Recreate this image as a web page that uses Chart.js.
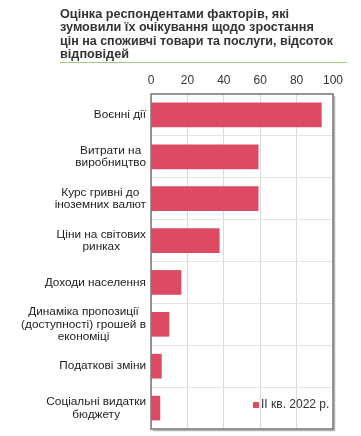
<!DOCTYPE html>
<html>
<head>
<meta charset="utf-8">
<script src="https://cdn.jsdelivr.net/npm/chart.js@4.4.1/dist/chart.umd.min.js"></script>
<style>
  html, body { margin: 0; padding: 0; background: #fff; }
  #wrap { width: 361px; height: 436px; }
</style>
</head>
<body>
<div id="wrap"><canvas id="factorsChart"></canvas></div>
<script>
// Дані (оцінені з картинки)
const categories = [
  ['Воєнні дії'],
  ['Витрати на', 'виробництво'],
  ['Курс гривні до', 'іноземних валют'],
  ['Ціни на світових', 'ринках'],
  ['Доходи населення'],
  ['Динаміка пропозиції', '(доступності) грошей в', 'економіці'],
  ['Податкові зміни'],
  ['Соціальні видатки', 'бюджету']
];
const values = [93.6, 58.9, 58.9, 37.5, 16.5, 9.9, 5.7, 4.9];
const seriesLabel = 'II кв. 2022 р.';
const titleLines = [
  'Оцінка респондентами факторів, які',
  'зумовили їх очікування щодо зростання',
  'цін на споживчі товари та послуги, відсоток',
  'відповідей'
];
const xTicks = [0, 20, 40, 60, 80, 100];

const FONT = '"Liberation Sans", Arial, sans-serif';
const COLOR_BAR = '#dc4a63';
const COLOR_TEXT = '#222';

Chart.defaults.font.family = FONT;
Chart.defaults.color = COLOR_TEXT;

// підписи категорій: кожен рядок по центру, блок притиснутий праворуч
const categoryLabels = {
  id: 'categoryLabels',
  afterDraw(chart) {
    const ctx = chart.ctx;
    const y = chart.scales.y;
    const right = chart.chartArea.left - 5;
    const lh = 12.4;
    ctx.save();
    ctx.font = '11.8px ' + FONT;
    ctx.fillStyle = COLOR_TEXT;
    ctx.textAlign = 'center';
    ctx.textBaseline = 'middle';
    categories.forEach((lines, i) => {
      const w = Math.max(...lines.map(l => ctx.measureText(l).width));
      const cx = right - w / 2;
      const cy = y.getPixelForTick(i);
      const top = cy - (lines.length - 1) * lh / 2;
      lines.forEach((l, k) => ctx.fillText(l, cx, top + k * lh));
    });
    ctx.restore();
  }
};

// рамка, зелена лінія під заголовком, легенда в області графіка
const decorations = {
  id: 'decorations',
  afterDatasetsDraw(chart) {
    const ctx = chart.ctx;
    const a = chart.chartArea;
    ctx.save();
    // тінь
    ctx.strokeStyle = '#b5b5b5';
    ctx.lineWidth = 1.5;
    ctx.beginPath();
    ctx.moveTo(a.right + 1.5, a.top + 2);
    ctx.lineTo(a.right + 1.5, a.bottom + 1.5);
    ctx.lineTo(a.left + 2, a.bottom + 1.5);
    ctx.stroke();
    ctx.strokeStyle = '#777';
    ctx.lineWidth = 1.5;
    ctx.strokeRect(a.left, a.top, a.right - a.left, a.bottom - a.top);
    // зелена лінія
    ctx.strokeStyle = '#9ccc7c';
    ctx.lineWidth = 1;
    ctx.beginPath();
    ctx.moveTo(60, 62.5);
    ctx.lineTo(347, 62.5);
    ctx.stroke();
    // легенда
    ctx.font = '12px ' + FONT;
    ctx.textBaseline = 'middle';
    ctx.textAlign = 'left';
    const tx = a.right - 72;
    const ty = a.bottom - 24;
    ctx.fillStyle = COLOR_BAR;
    ctx.fillRect(tx - 8, ty - 3, 6, 6);
    ctx.fillStyle = '#333';
    ctx.fillText(seriesLabel, tx, ty);
    ctx.restore();
  }
};

new Chart(document.getElementById('factorsChart'), {
  type: 'bar',
  data: {
    labels: categories,
    datasets: [{
      label: seriesLabel,
      data: values,
      backgroundColor: COLOR_BAR,
      barThickness: 24
    }]
  },
  options: {
    indexAxis: 'y',
    responsive: true,
    maintainAspectRatio: false,
    animation: false,
    layout: { padding: { left: 60, right: 28, bottom: 7, top: 0 } },
    plugins: {
      legend: { display: false },
      tooltip: { enabled: false },
      title: {
        display: true,
        text: titleLines,
        align: 'start',
        color: '#333',
        font: { size: 12.7, weight: 'bold', lineHeight: 1.065 },
        padding: { top: 7.5, bottom: 6 }
      }
    },
    scales: {
      x: {
        position: 'top',
        min: 0,
        max: 100,
        afterBuildTicks: s => { s.ticks = xTicks.map(v => ({ value: v })); },
        grid: { color: '#dadada', drawTicks: false },
        border: { display: false },
        ticks: { color: '#333', font: { size: 12 }, padding: 6 }
      },
      y: {
        grid: { color: '#e3e3e3', drawTicks: false },
        border: { display: false },
        ticks: { display: false },
        afterFit: s => { s.width = 91; }
      }
    }
  },
  plugins: [categoryLabels, decorations]
});
</script>
</body>
</html>
